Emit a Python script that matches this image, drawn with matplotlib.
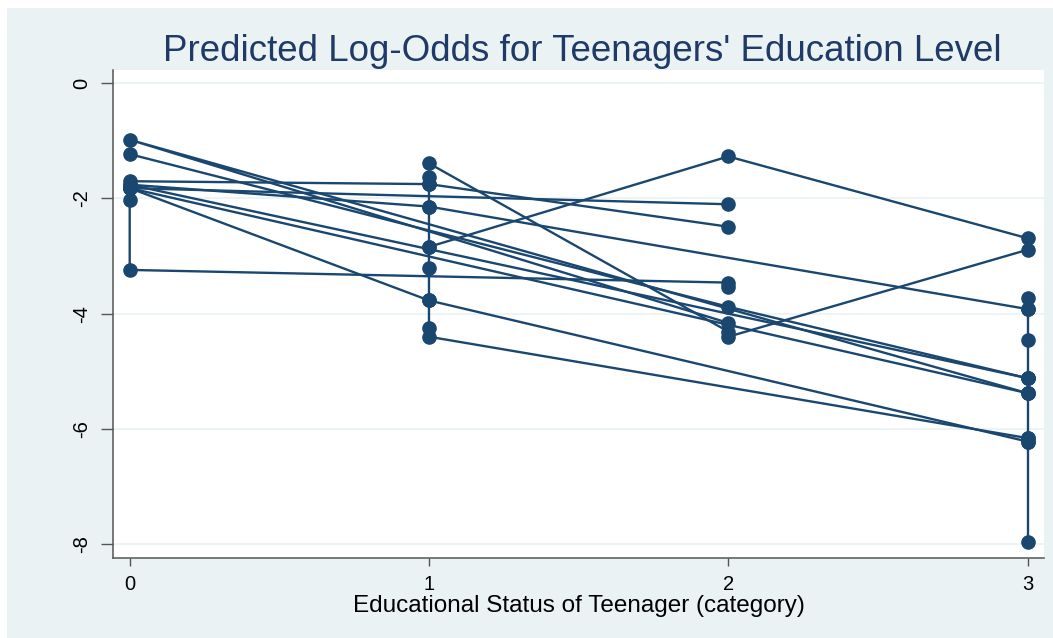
import matplotlib
matplotlib.use("Agg")
import matplotlib.pyplot as plt
from matplotlib.patches import Rectangle

# ---- data (Stata-style connected plot; observations in data order, grouped in chains) ----
educ = [0, 1, 2,
        0, 2,
        1, 2, 2, 3,
        0, 1, 3,
        3, 3, 3, 3, 3, 3, 3, 3,
        1, 2, 3,
        0, 0, 0, 2, 2,
        0, 1, 3,
        1, 1, 1, 1, 1, 1, 1, 1, 3,
        3, 0, 2,
        0, 2, 3,
        0, 3,
        0, 3]
logodds = [-1.70, -1.75, -2.49,
           -1.82, -2.10,
           -1.39, -4.31, -4.40, -2.89,
           -1.76, -2.14, -3.92,
           -3.72, -3.92, -4.46, -5.12, -5.38, -6.16, -6.22, -7.96,
           -2.84, -1.27, -2.69,
           -1.82, -2.03, -3.24, -3.46, -3.54,
           -1.82, -3.77, -6.22,
           -1.62, -1.75, -2.14, -2.84, -3.20, -3.77, -4.25, -4.40, -6.16,
           -5.38, -0.98, -4.16,
           -1.23, -3.88, -5.12,
           -1.82, -5.38,
           -1.76, -5.12]
chain = [1, 1, 1,
         2, 2,
         3, 3, 3, 3,
         4, 4, 4,
         5, 5, 5, 5, 5, 5, 5, 5,
         6, 6, 6,
         7, 7, 7, 7, 7,
         8, 8, 8,
         9, 9, 9, 9, 9, 9, 9, 9, 9,
         10, 10, 10,
         11, 11, 11,
         12, 12,
         13, 13]

xticks = [0, 1, 2, 3]
yticks = [0, -2, -4, -6, -8]
title = "Predicted Log-Odds for Teenagers' Education Level"
xlabel = "Educational Status of Teenager (category)"

# ---- style ----
plt.rcParams['font.family'] = ['Liberation Sans', 'DejaVu Sans']
BG = '#EAF2F3'
NAVY = '#1A476F'
W, H = 1053, 638

fig = plt.figure(figsize=(W / 100, H / 100), dpi=100, facecolor='white')
fig.patches.append(Rectangle((7 / W, 0), 1, 1 - 8 / H, transform=fig.transFigure,
                             facecolor=BG, edgecolor='none', zorder=-10))

ax = fig.add_axes([113 / W, 1 - 558.3 / H, (1044 - 113) / W, (558.3 - 70) / H])
ax.set_facecolor('white')

for cid in sorted(set(chain)):
    xs = [x for x, c in zip(educ, chain) if c == cid]
    ys = [y for y, c in zip(logodds, chain) if c == cid]
    ax.plot(xs, ys, color=NAVY, lw=1.7, marker='o', ms=9.5, mfc=NAVY, mec=NAVY,
            solid_joinstyle='round', zorder=3, clip_on=False)

ax.set_xlim(-0.0558, 3.055)
ax.set_ylim(-8.247, 0.231)
ax.set_xticks(xticks)
ax.set_yticks(yticks)
ax.set_xticklabels([str(t) for t in xticks], fontsize=14.5)
ax.set_yticklabels([str(t) for t in yticks], fontsize=14.5, rotation=90, va='center')
ax.tick_params(axis='y', length=8.5, width=1, color='#555555', pad=7)
ax.tick_params(axis='x', length=6, width=1, color='#555555', pad=6)

ax.grid(axis='y', color=BG, lw=1.2, zorder=0)
ax.set_axisbelow(True)
for s in ['top', 'right']:
    ax.spines[s].set_visible(False)
for s in ['left', 'bottom']:
    ax.spines[s].set_color('#555555')
    ax.spines[s].set_linewidth(1.1)

ax.set_xlabel(xlabel, fontsize=17.5, labelpad=1)

fig.text(582 / W, 1 - 61 / H, title, ha='center', va='baseline',
         fontsize=26.5, color='#1F3A66')

fig.savefig('out.png', dpi=100, facecolor=fig.get_facecolor())
